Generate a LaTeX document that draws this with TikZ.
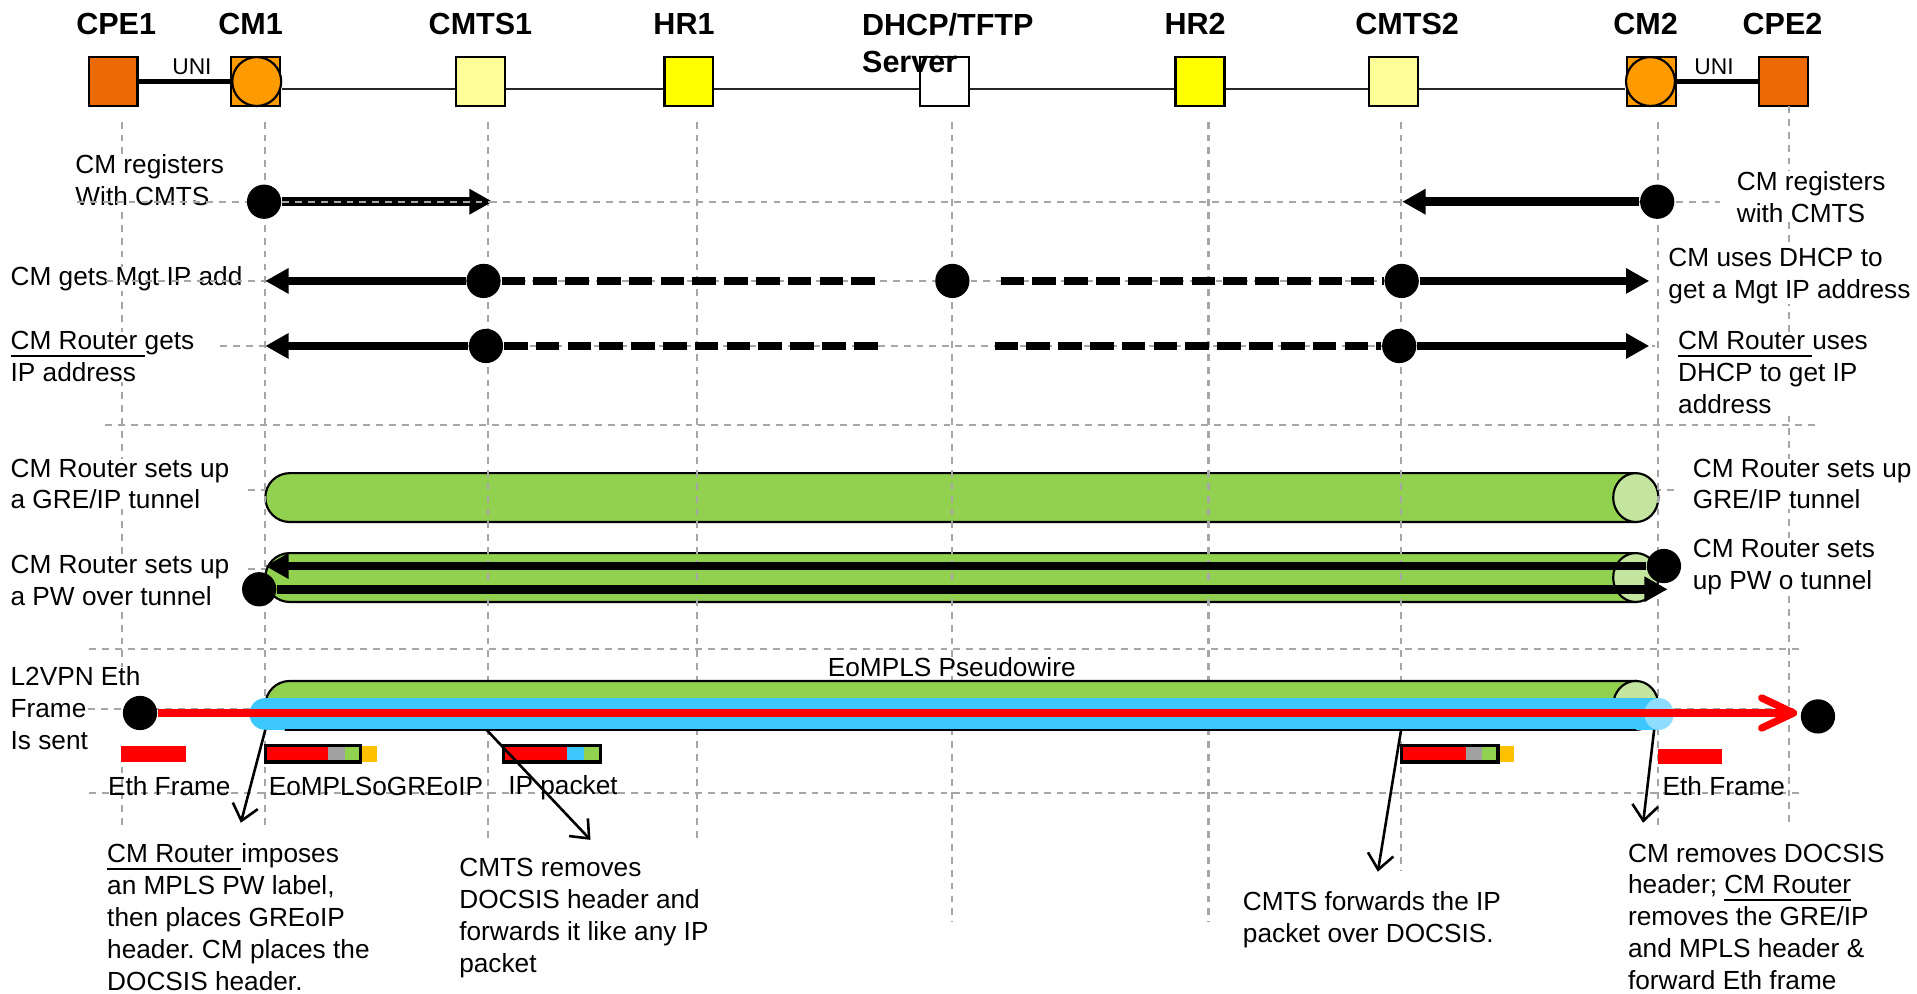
\documentclass[tikz,border=0pt]{standalone}
\usepackage{fontspec}
\setmainfont{Liberation Sans}
\usetikzlibrary{arrows.meta}

\definecolor{cpeorange}{HTML}{EC6A06}
\definecolor{cmorange}{HTML}{FF9A00}
\definecolor{cmtsyellow}{HTML}{FFFF99}
\definecolor{hryellow}{HTML}{FFFF00}
\definecolor{tubegreen}{HTML}{92D050}
\definecolor{capgreen}{HTML}{C3E5A0}
\definecolor{pwblue}{HTML}{3CC8FF}
\definecolor{capblue}{HTML}{8EDCFF}
\definecolor{ethred}{HTML}{FF0000}
\definecolor{hdrgray}{HTML}{A0A0A0}
\definecolor{docsisorange}{HTML}{FFC000}
\definecolor{lifegray}{HTML}{A6A6A6}

\begin{document}
\begin{tikzpicture}[
        x=0.01cm, y=-0.01cm,
        >={Triangle[length=5.4pt,width=5.6pt]},
        box/.style={draw, line width=0.5pt, minimum size=0.4cm, inner sep=0pt},
        cpe/.style={box, fill=cpeorange},
        modem/.style={box, fill=cmorange},
        cmts/.style={box, fill=cmtsyellow},
        router/.style={box, fill=hryellow},
        server/.style={box, fill=white},
        disk/.style={draw, line width=0.5pt, circle, fill=cmorange, minimum size=0.4cm, inner sep=0pt},
        title/.style={font=\fontsize{7.1}{8.65}\selectfont\bfseries, inner sep=0pt},
        note/.style={font=\fontsize{6.1}{7.4}\selectfont\frenchspacing, align=left, inner sep=0pt, fill=white, anchor=north west},
        tag/.style={font=\fontsize{6.1}{7.4}\selectfont, inner sep=0pt, anchor=base},
        wire/.style={line width=0.5pt, black!85},
        uni/.style={line width=1.3pt},
        life/.style={draw=lifegray, line width=0.5pt, dash pattern=on 1.6pt off 1.4pt},
        dot/.style={circle, fill=black, minimum size=0.28cm, inner sep=0pt},
        msg/.style={->, line width=2pt},
        dmsg/.style={line width=2pt, dash pattern=on 5.5pt off 1.9pt},
        tubeline/.style={draw=black, line width=0.5pt},
        eth/.style={draw=ethred, line width=1.7pt, -{Straight Barb[round,length=7.4pt,width=7pt]}},
        pkt/.style={draw=black, line width=0.8pt},
        lead/.style={line width=0.6pt, -{Straight Barb[length=3.6pt,width=6pt]}}
    ]
    \useasboundingbox (0,0) rectangle (1568,813);

    % Network elements
    \node[cpe] (cpe1) at (92.5,66.7) {};
    \node[modem] (cm1) at (209,66.7) {};
    \node[disk] (cm1d) at (210,66.7) {};
    \node[cmts] (cmts1) at (393,66.7) {};
    \node[router] (hr1) at (563.5,66.7) {};
    \node[server] (dhcp) at (772.5,66.7) {};
    \node[router] (hr2) at (981.5,66.7) {};
    \node[cmts] (cmts2) at (1140,66.7) {};
    \node[modem] (cm2) at (1351,66.7) {};
    \node[disk] (cm2d) at (1350,66.7) {};
    \node[cpe] (cpe2) at (1458.5,66.7) {};

    % Links between the elements
    \draw[uni] (cpe1) -- (cm1d);
    \draw[uni] (cm2d) -- (cpe2);
    \draw[wire] ([yshift=-1.8pt]cm1d.east) -- ([yshift=-1.8pt]cmts1.west);
    \draw[wire] ([yshift=-1.8pt]cmts1.east) -- ([yshift=-1.8pt]hr1.west);
    \draw[wire] ([yshift=-1.8pt]hr1.east) -- ([yshift=-1.8pt]dhcp.west);
    \draw[wire] ([yshift=-1.8pt]dhcp.east) -- ([yshift=-1.8pt]hr2.west);
    \draw[wire] ([yshift=-1.8pt]hr2.east) -- ([yshift=-1.8pt]cmts2.west);
    \draw[wire] ([yshift=-1.8pt]cmts2.east) -- ([yshift=-1.8pt]cm2d.west);
    \node[font=\fontsize{5.3}{6}\selectfont, inner sep=0pt] (uni1) at (157,54.5) {UNI};
    \node[font=\fontsize{5.3}{6}\selectfont, inner sep=0pt] (uni2) at (1402,54.5) {UNI};

    % Titles
    \node[title, anchor=base] (cpe1t) at (95,28.6) {CPE1};
    \node[title, anchor=base] (cm1t) at (205,28.6) {CM1};
    \node[title, anchor=base] (cmts1t) at (393,28.6) {CMTS1};
    \node[title, anchor=base] (hr1t) at (559.5,28.6) {HR1};
    \node[title, anchor=north west, align=left] (dhcpt) at (704.5,10) {DHCP/TFTP\\Server};
    \node[title, anchor=base] (hr2t) at (977.5,28.6) {HR2};
    \node[title, anchor=base] (cmts2t) at (1151,28.6) {CMTS2};
    \node[title, anchor=base] (cm2t) at (1346,28.6) {CM2};
    \node[title, anchor=base] (cpe2t) at (1458,28.6) {CPE2};

    % GRE/IP tunnel and PW tunnel
    \draw[life] (203,400.8) -- (1369,400.8);
    \draw[life] (203,465.4) -- (1360,465.4);
    \filldraw[tubeline, fill=tubegreen] (1338,387) -- (237,387) arc[start angle=270, end angle=90, radius=20] -- (1338,427) -- cycle;
    \draw[tubeline, fill=capgreen] (1338,407) ellipse[x radius=18.5, y radius=20];
    \filldraw[tubeline, fill=tubegreen] (1338,452.4) -- (237,452.4) arc[start angle=270, end angle=90, radius=20] -- (1338,492.4) -- cycle;
    \draw[tubeline, fill=capgreen] (1338,472.4) ellipse[x radius=18.5, y radius=20];

    % Lifelines
    \draw[life] (100,99.5) -- (100,675);
    \draw[life] (217,99.5) -- (217,675);
    \draw[life] (399,99.5) -- (399,688.7);
    \draw[life] (570,99.5) -- (570,688.7);
    \draw[life] (779,99.5) -- (779,754);
    \draw[life] (988.5,99.5) -- (988.5,754);
    \draw[life] (1146,99.5) -- (1146,711.6);
    \draw[life] (1356,99.5) -- (1356,675);
    \draw[life] (1463,86.7) -- (1463,675);

    % Step descriptions
    \node[note] (reg1) at (61,126) {CM registers\\With CMTS};
    \node[note] (mgt1) at (8,217.5) {CM gets Mgt IP add};
    \node[note] (rip1) at (8,270.5) {\underline{CM Router\ }gets\\IP address};
    \node[note] (gre1) at (8,374.5) {CM Router sets up\\a GRE/IP tunnel};
    \node[note] (pw1) at (8,453.5) {CM Router sets up\\a PW over tunnel};
    \node[note] (l2vpn) at (8,544.5) {L2VPN Eth\\Frame\\Is sent};
    \node[note] (reg2) at (1420,139.5) {CM registers\\with CMTS};
    \node[note] (mgt2) at (1364,202.5) {CM uses DHCP to\\get a Mgt IP address};
    \node[note] (rip2) at (1372,270.5) {\underline{CM Router\ }uses\\DHCP to get IP\\address};
    \node[note] (gre2) at (1384,374.5) {CM Router sets up\\GRE/IP tunnel};
    \node[note] (pw2) at (1384,440.5) {CM Router sets\\up PW o tunnel};
    \node[note] (imp) at (87,689.5) {\underline{CM Router\ }imposes\\an MPLS PW label,\\then places GREoIP\\header. CM places the\\DOCSIS header.};
    \node[note] (rem1) at (375,701.5) {CMTS removes\\DOCSIS header and\\forwards it like any IP\\packet};
    \node[note] (fwd) at (1016,728.5) {CMTS forwards the IP\\packet over DOCSIS.};
    \node[note] (rem2) at (1331,689.5) {CM removes DOCSIS\\header; \underline{CM Router}\\removes the GRE/IP\\and MPLS header \&\\forward Eth frame};

    % Row guides and separators
    \draw[life] (63,165) -- (1407,165);
    \draw[life] (87,229.8) -- (1349,229.8);
    \draw[life] (180,283) -- (1354,283);
    \draw[life] (72,580) -- (1467,580);
    \draw[life] (86,347.6) -- (1487,347.6);
    \draw[life] (73,530.8) -- (1474,530.8);
    \draw[life] (73,648.6) -- (1474,648.6);

    % Message end points
    \coordinate (t1a) at (403,165);
    \coordinate (t1b) at (1147,165);
    \coordinate (t2a) at (217,229.8);
    \coordinate (t2b) at (1349,229.8);
    \coordinate (g2a) at (719.5,229.8);
    \coordinate (g2b) at (818.5,229.8);
    \coordinate (t3a) at (217,283);
    \coordinate (t3b) at (1349,283);
    \coordinate (g3a) at (722.5,283);
    \coordinate (g3b) at (813.5,283);
    \coordinate (t5a) at (217,463);
    \coordinate (t5b) at (1364,482);
    \coordinate (t6) at (1470,583.2);

    % Event dots
    \node[dot] (r1a) at (216,165) {};
    \node[dot] (r1b) at (1355.5,165) {};
    \node[dot] (r2a) at (395.5,229.8) {};
    \node[dot] (r2b) at (779,229.8) {};
    \node[dot] (r2c) at (1146.5,229.8) {};
    \node[dot] (r3a) at (397.5,283) {};
    \node[dot] (r3b) at (1144.5,283) {};
    \node[dot] (r5a) at (212,482) {};
    \node[dot] (r5b) at (1361,463) {};

    % Registration
    \draw[msg] (r1a) -- (t1a);
    \draw[life] (r1a) -- (t1a);
    \draw[msg] (r1b) -- (t1b);

    % DHCP for the CM
    \draw[msg] (r2a) -- (t2a);
    \draw[dmsg] (r2a) -- (g2a);
    \draw[dmsg] (g2b) -- (r2c);
    \draw[msg] (r2c) -- (t2b);

    % DHCP for the CM Router
    \draw[msg] (r3a) -- (t3a);
    \draw[dmsg] (r3a) -- (g3a);
    \draw[dmsg] (g3b) -- (r3b);
    \draw[msg] (r3b) -- (t3b);

    % PW over the tunnel
    \draw[msg] (r5b) -- (t5a);
    \draw[msg] (r5a) -- (t5b);

    % EoMPLS pseudowire
    \filldraw[tubeline, fill=tubegreen] (1338,557) -- (237,557) arc[start angle=270, end angle=90, radius=20] -- (1338,597) -- cycle;
    \draw[tubeline, fill=capgreen] (1338,577) ellipse[x radius=18.5, y radius=20];
    \fill[pwblue] (1357,571) -- (217,571) arc[start angle=270, end angle=90, radius=13] -- (1357,597) -- cycle;
    \fill[capblue] (1357,584) ellipse[x radius=12, y radius=13];
    \draw[tubeline] (233,597) -- (1338,597);
    \node[dot] (r6a) at (114.5,583.2) {};
    \node[dot] (r6b) at (1487,586) {};
    \draw[eth] (r6a) -- (t6);
    \node[tag] (pwl) at (778.5,553.5) {EoMPLS Pseudowire};

    % Frames and packets
    \fill[ethred] (99,610) rectangle (152,623.3);
    \fill[ethred] (217,610) rectangle (268,623.3);
    \fill[hdrgray] (268,610) rectangle (282,623.3);
    \fill[tubegreen] (282,610) rectangle (295,623.3);
    \fill[docsisorange] (295,610) rectangle (308,623.3);
    \draw[pkt] (217,610) rectangle (295,623.3);
    \fill[ethred] (412,610) rectangle (464,623.3);
    \fill[pwblue] (464,610) rectangle (478,623.3);
    \fill[tubegreen] (478,610) rectangle (491,623.3);
    \draw[pkt] (412,610) rectangle (491,623.3);
    \fill[ethred] (1146.3,610) rectangle (1198.7,623.3);
    \fill[hdrgray] (1198.7,610) rectangle (1212,623.3);
    \fill[tubegreen] (1212,610) rectangle (1225.3,623.3);
    \fill[docsisorange] (1225.3,610) rectangle (1238,623.3);
    \draw[pkt] (1146.3,610) rectangle (1225.3,623.3);
    \fill[ethred] (1356.3,612.6) rectangle (1408.7,625);

    \node[tag] (ethl) at (138.5,651) {Eth Frame};
    \node[tag] (eogl) at (307.5,651) {EoMPLSoGREoIP};
    \node[tag] (ipl) at (460.5,649.5) {IP packet};
    \node[tag] (ethr) at (1410,651) {Eth Frame};

    % Callouts
    \coordinate (c1s) at (217,597);  \coordinate (c1e) at (197,673);
    \coordinate (c2s) at (398,597);  \coordinate (c2e) at (483,687);
    \coordinate (c3s) at (1146,597); \coordinate (c3e) at (1127,713);
    \coordinate (c4s) at (1353,597); \coordinate (c4e) at (1344,673);
    \draw[lead] (c1s) -- (c1e);
    \draw[lead] (c2s) -- (c2e);
    \draw[lead] (c3s) -- (c3e);
    \draw[lead] (c4s) -- (c4e);

\end{tikzpicture}
\end{document}
